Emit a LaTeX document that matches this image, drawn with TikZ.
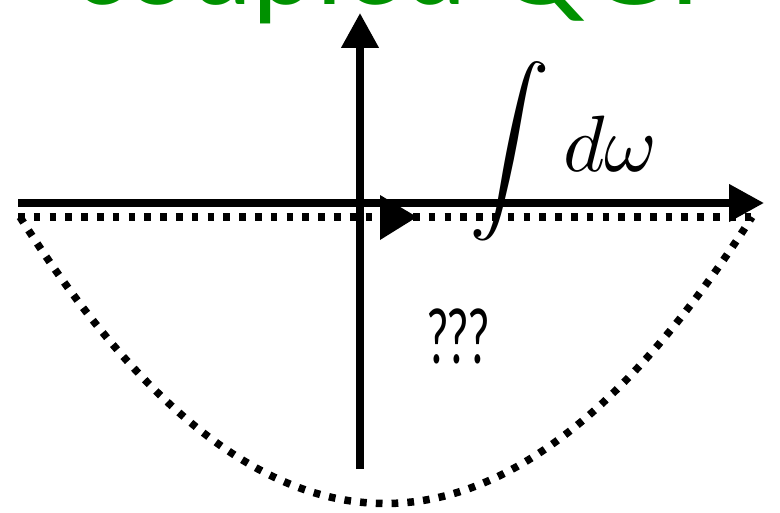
\documentclass[tikz,border=0pt]{standalone}
\usepackage{graphicx}
\usepackage{fontspec}
\usetikzlibrary{arrows.meta}
\newfontfamily\titlefont{Lato}
\newfontfamily\qfont{Lato}
\definecolor{titlegreen}{RGB}{0,145,0}
\begin{document}
\begin{tikzpicture}[x=0.02cm,y=-0.02cm,
  axis/.style={line width=0.15cm,-{Triangle[length=0.7cm,width=0.72cm]}},
  dotline/.style={line width=0.15cm,dash pattern=on 0.134cm off 0.182cm},
  lbl/.style={inner sep=0pt,outer sep=0pt}]
\useasboundingbox (0,0) rectangle (780,513);
\clip (0,0) rectangle (780,513);
% title (only its lower part is inside the picture)
\node[lbl,anchor=base west,text=titlegreen] (title) at (72,5)
  {\resizebox{13.3cm}{!}{\titlefont coupled QGP}};
% coordinates
\coordinate (xl) at (18,203);
\coordinate (xr) at (764,203);
\coordinate (yb) at (360,469);
\coordinate (yt) at (360,13);
\coordinate (dl) at (18,217);
\coordinate (dr) at (760,217);
\coordinate (cl) at (20,217);
\coordinate (cr) at (752,217);
% dotted contour
\draw[dotline] (dl) -- (dr);
\draw[dotline] (cl) .. controls (262,599) and (508,599) .. (cr);
% axes
\draw[axis] (yb) -- (yt);
\draw[axis] (xl) -- (xr);
% direction arrow on contour
\fill (380,195) -- (417,217) -- (380,240) -- cycle;
% labels
\node[lbl,anchor=base west] (intsign) at (469,172)
  {\scalebox{4.6}{$\displaystyle\int$}};
\node[lbl,anchor=base west] (domega) at (563,172)
  {\scalebox{4.55}{$d\omega$}};
\node[lbl,anchor=base west] (qqq) at (427,363)
  {\scalebox{0.62}[1]{\fontsize{43}{50}\selectfont\qfont ???}};
\end{tikzpicture}
\end{document}
